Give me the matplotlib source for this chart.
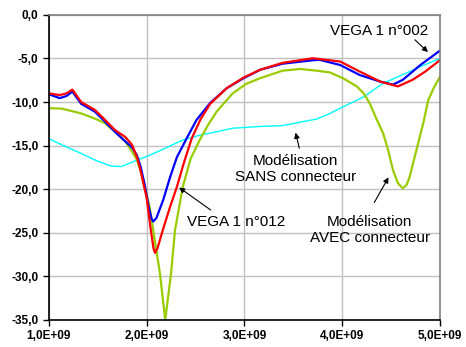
import matplotlib
matplotlib.use("Agg")
import matplotlib.pyplot as plt
import numpy as np

plt.rcParams["font.family"] = ["Liberation Sans", "DejaVu Sans"]

# frequencies in GHz, levels in dB
red_f = [1.00, 1.11, 1.18, 1.24, 1.33, 1.47, 1.57, 1.675, 1.78, 1.85, 1.90, 1.93,
         1.97, 2.00, 2.04, 2.07, 2.085, 2.11, 2.17, 2.24, 2.31, 2.38, 2.46, 2.55,
         2.65, 2.82, 2.99, 3.16, 3.39, 3.70, 3.87, 3.98, 4.18, 4.39, 4.57, 4.72,
         4.85, 5.00]
red_db = [-9.0, -9.2, -9.0, -8.57, -10.0, -10.9, -12.0, -13.2, -14.0, -14.9, -16.3, -17.5,
          -19.5, -21.0, -24.5, -26.8, -27.3, -26.8, -24.5, -22.0, -19.7, -17.0, -14.2, -12.0,
          -10.2, -8.4, -7.2, -6.3, -5.5, -4.97, -5.2, -5.35, -6.5, -7.65, -8.2, -7.45,
          -6.5, -5.2]

blue_f = [1.00, 1.11, 1.18, 1.24, 1.33, 1.47, 1.57, 1.675, 1.78, 1.85, 1.90, 1.94,
          1.98, 2.02, 2.05, 2.067, 2.10, 2.17, 2.24, 2.31, 2.41, 2.51, 2.65, 2.82,
          2.99, 3.16, 3.39, 3.70, 3.77, 3.98, 4.18, 4.39, 4.52, 4.62, 4.80, 5.00]
blue_db = [-9.1, -9.55, -9.3, -8.8, -10.2, -11.1, -12.2, -13.4, -14.5, -15.2, -16.1, -17.5,
           -19.5, -22.0, -23.4, -23.7, -23.3, -21.2, -18.6, -16.3, -14.15, -12.05, -10.1, -8.4,
           -7.27, -6.3, -5.6, -5.2, -5.15, -5.75, -6.9, -7.65, -8.0, -7.45, -5.75, -4.1]

avec_f = [1.00, 1.13, 1.33, 1.47, 1.57, 1.675, 1.78, 1.85, 1.90, 1.94, 1.98, 2.03,
          2.067, 2.135, 2.19, 2.25, 2.29, 2.37, 2.45, 2.545, 2.63, 2.715, 2.88, 3.02,
          3.16, 3.39, 3.57, 3.74, 3.875, 4.01, 4.15, 4.22, 4.28, 4.35, 4.42, 4.47,
          4.52, 4.57, 4.62, 4.66, 4.69, 4.76, 4.83, 4.88, 4.94, 5.00]
avec_db = [-10.7, -10.75, -11.3, -11.9, -12.4, -13.4, -14.5, -15.7, -16.6, -18.0, -19.7, -22.0,
           -24.7, -29.6, -35.0, -29.6, -24.7, -19.7, -16.5, -14.3, -12.6, -11.1, -9.0, -7.9,
           -7.27, -6.4, -6.2, -6.4, -6.6, -7.27, -8.2, -9.0, -10.1, -11.9, -13.6, -15.5,
           -17.8, -19.3, -19.9, -19.5, -18.6, -15.5, -12.4, -9.8, -8.3, -7.1]

sans_f = [1.00, 1.13, 1.33, 1.50, 1.64, 1.74, 1.85, 2.03, 2.19, 2.37, 2.545, 2.715,
          2.88, 3.16, 3.39, 3.57, 3.74, 3.875, 3.98, 4.22, 4.42, 4.69, 4.85, 5.00]
sans_db = [-14.2, -14.9, -15.9, -16.8, -17.35, -17.4, -16.9, -16.1, -15.3, -14.35, -13.8, -13.4,
           -13.0, -12.8, -12.7, -12.3, -11.95, -11.3, -10.7, -9.4, -7.84, -6.5, -5.7, -5.0]

x_ticks = [1e9, 2e9, 3e9, 4e9, 5e9]
x_labels = ["1,0E+09", "2,0E+09", "3,0E+09", "4,0E+09", "5,0E+09"]
y_ticks = [0, -5, -10, -15, -20, -25, -30, -35]
y_labels = ["0,0", "-5,0", "-10,0", "-15,0", "-20,0", "-25,0", "-30,0", "-35,0"]

fig = plt.figure(figsize=(4.66, 3.47), dpi=100)
ax = fig.add_axes([0.105, 0.078, 0.839, 0.879])

ax.plot(np.array(sans_f) * 1e9, sans_db, color="#00ffff", lw=1.0)
ax.plot(np.array(avec_f) * 1e9, avec_db, color="#99cc00", lw=1.6)
ax.plot(np.array(blue_f) * 1e9, blue_db, color="#0000ff", lw=1.6)
ax.plot(np.array(red_f) * 1e9, red_db, color="#ff0000", lw=1.6)

ax.set_xlim(1e9, 5e9)
ax.set_ylim(-35, 0)
ax.set_xticks(x_ticks)
ax.set_xticklabels(x_labels, fontsize=8.5, fontweight="bold")
ax.set_yticks(y_ticks)
ax.set_yticklabels(y_labels, fontsize=8.5, fontweight="bold")
ax.tick_params(direction="out", length=4, width=1, color="black")
ax.grid(True, color="#c0c0c0", lw=1)
ax.set_axisbelow(True)
for s in ["top", "right"]:
    ax.spines[s].set_color("#808080")
    ax.spines[s].set_linewidth(1.2)
for s in ["left", "bottom"]:
    ax.spines[s].set_color("black")
    ax.spines[s].set_linewidth(1.2)

arrow = dict(arrowstyle="-|>", color="black", lw=0.8, mutation_scale=8)
fs = 11

ax.text(4.376e9, -1.84, "VEGA 1 n°002", fontsize=fs, ha="center", va="center")
ax.annotate("", xy=(4.898e9, -4.48), xytext=(4.724e9, -2.64), arrowprops=arrow)

ax.text(2.918e9, -23.75, "VEGA 1 n°012", fontsize=fs, ha="center", va="center")
ax.annotate("", xy=(2.309e9, -19.62), xytext=(2.678e9, -22.57), arrowprops=arrow)

ax.text(3.527e9, -17.67, "Modélisation\nSANS connecteur", fontsize=fs,
        ha="center", va="center", linespacing=1.2)
ax.annotate("", xy=(3.517e9, -13.2), xytext=(3.568e9, -15.6), arrowprops=arrow)

ax.text(4.284e9, -24.67, "Modélisation\nAVEC connecteur", fontsize=fs,
        ha="center", va="center", linespacing=1.2)
ax.annotate("", xy=(4.488e9, -18.36), xytext=(4.315e9, -21.8), arrowprops=arrow)

fig.savefig("out.png", dpi=100)
